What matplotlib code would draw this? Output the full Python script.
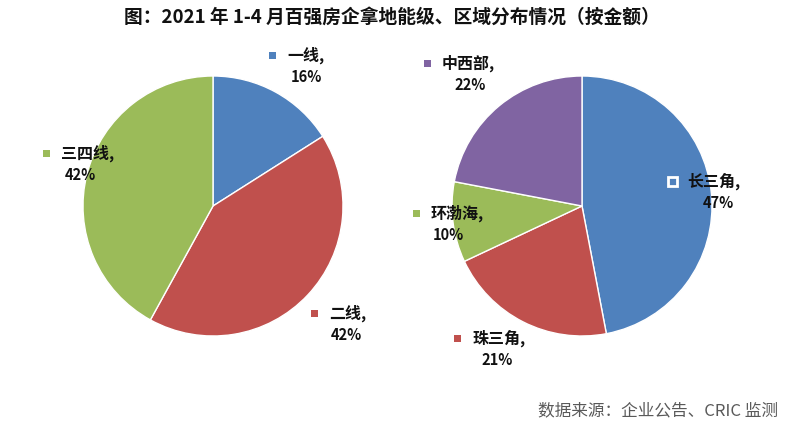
import matplotlib
matplotlib.use("Agg")
import matplotlib.pyplot as plt
from matplotlib.patches import Rectangle

plt.rcParams['font.family'] = ['Noto Sans CJK SC', 'DejaVu Sans']

title = "图：2021 年 1-4 月百强房企拿地能级、区域分布情况（按金额）"
source = "数据来源：企业公告、CRIC 监测"

tier_labels = ["一线", "二线", "三四线"]
tier_values = [16, 42, 42]
tier_colors = ["#4F81BD", "#C0504D", "#9BBB59"]

region_labels = ["长三角", "珠三角", "环渤海", "中西部"]
region_values = [47, 21, 10, 22]
region_colors = ["#4F81BD", "#C0504D", "#9BBB59", "#8064A2"]

W, H = 800, 426
fig = plt.figure(figsize=(8, 4.26), dpi=100)
ax = fig.add_axes([0, 0, 1, 1])

R = 130
# y axis is inverted below, so startangle=-90 + counterclock=True
# renders as starting at 12 o'clock going clockwise.
ax.pie(tier_values, colors=tier_colors, startangle=-90, counterclock=True,
       center=(213, 206), radius=R, frame=True,
       wedgeprops=dict(edgecolor='white', linewidth=1))
ax.pie(region_values, colors=region_colors, startangle=-90, counterclock=True,
       center=(582, 206), radius=R, frame=True,
       wedgeprops=dict(edgecolor='white', linewidth=1))
ax.set_xlim(0, W)
ax.set_ylim(H, 0)
ax.set_aspect('equal')
ax.axis('off')

def label(x, y, name, pct, color, px, hollow=False):
    s = 7
    if hollow:
        ax.add_patch(Rectangle((x - s / 2 - 1, y - s / 2 - 1), s + 2, s + 2,
                               facecolor=color, edgecolor='white', linewidth=2, zorder=5))
    else:
        ax.add_patch(Rectangle((x - s / 2, y - s / 2), s, s, facecolor=color,
                               edgecolor='none', zorder=5))
    ax.text(x + 15, y, name + ",", fontsize=11.5, fontweight='bold', ha='left',
            va='center', color='#111111', zorder=6)
    ax.text(px, y + 22, f"{pct}%", fontsize=10.5, fontweight='bold', ha='center',
            va='center', color='#111111', zorder=6)

# tier labels
label(272, 55, tier_labels[0], tier_values[0], tier_colors[0], 306)
label(314, 313, tier_labels[1], tier_values[1], tier_colors[1], 346)
label(46, 153, tier_labels[2], tier_values[2], tier_colors[2], 80)
# region labels
label(672, 181, region_labels[0], region_values[0], region_colors[0], 718, hollow=True)
label(457, 338, region_labels[1], region_values[1], region_colors[1], 497)
label(416, 213, region_labels[2], region_values[2], region_colors[2], 448)
label(427, 63, region_labels[3], region_values[3], region_colors[3], 470)

ax.text(392, 17, title, fontsize=13.5, fontweight='bold', ha='center', va='center',
        color='#111111')
ax.text(778, 411, source, fontsize=12, ha='right', va='center', color='#595959')

fig.savefig("out.png", dpi=100)
